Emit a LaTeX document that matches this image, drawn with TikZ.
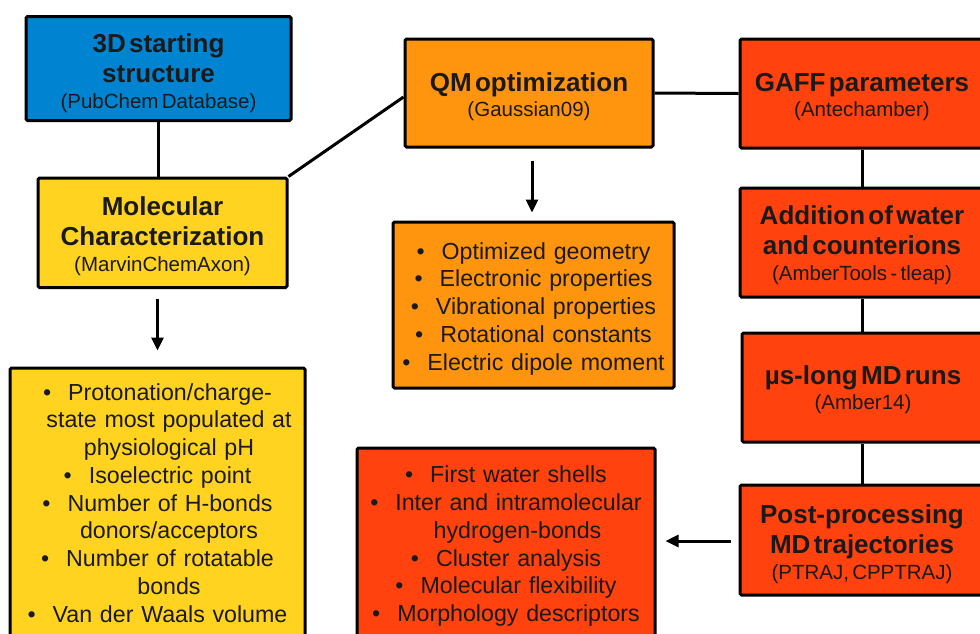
\documentclass[tikz,border=0pt]{standalone}
\usepackage{fontspec}
\setmainfont{Liberation Sans}
\usetikzlibrary{arrows.meta,calc}
\definecolor{cblue}{HTML}{0084D1}
\definecolor{cyel}{HTML}{FFD320}
\definecolor{corg}{HTML}{FF950E}
\definecolor{cred}{HTML}{FF420E}
\definecolor{ctxt}{HTML}{1A1A1A}
\setlength{\parskip}{0pt}
\setlength{\parindent}{0pt}
\hyphenpenalty=10000
\newcommand\Hd[1]{{\fontsize{26}{30.5}\selectfont\bfseries\rule{0pt}{21.35pt}#1\par}}
\newcommand\Sb[1]{{\fontsize{20.5}{25.5}\selectfont #1\par}}
\newcommand\Bu{\textbullet\hspace{17pt}}
\newcommand\Ct{\hspace*{23pt}}
\newcommand\Ls{\fontsize{23.2}{27.75}\selectfont}
\tikzset{
  box/.style={draw=black, line width=3pt, rounded corners=1.5pt, inner sep=0pt},
  txt/.style={anchor=north, inner sep=0pt, align=center, text=ctxt},
  lst/.style={txt, font=\Ls},
  conn/.style={line width=3pt, draw=black},
  arr/.style={line width=3pt, draw=black, -{Triangle[length=13pt,width=12pt]}}
}
\begin{document}
\begin{tikzpicture}[x=1pt,y=-1pt]
\useasboundingbox (0,0) rectangle (980,633);
\clip (0,0) rectangle (980,633);
% boxes
\node[box, fill=cblue, minimum width=265pt, minimum height=104pt] (blue) at (158.5,68.5) {};
\node[box, fill=cyel, minimum width=249pt, minimum height=109.5pt] (mc) at (162.5,232.75) {};
\node[box, fill=cyel, minimum width=295pt, minimum height=312pt] (mcl) at (157.5,524) {};
\node[box, fill=corg, minimum width=248pt, minimum height=108pt] (qm) at (529,93) {};
\node[box, fill=corg, minimum width=281pt, minimum height=166pt] (ql) at (533.5,305) {};
\node[box, fill=cred, minimum width=244pt, minimum height=109pt] (gaff) at (862,93.5) {};
\node[box, fill=cred, minimum width=244pt, minimum height=109pt] (add) at (862,242.5) {};
\node[box, fill=cred, minimum width=242pt, minimum height=109pt] (mus) at (863,387.5) {};
\node[box, fill=cred, minimum width=244pt, minimum height=110pt] (post) at (862,540) {};
\node[box, fill=cred, minimum width=298pt, minimum height=232pt] (mdl) at (506,564) {};
% texts
\node[txt, text width=255pt] (blue-t) at (158.5,30.65) {\Hd{3D starting\\structure}\Sb{(PubChem Database)}};
\node[txt, text width=245pt] (mc-t) at (162.5,193.65) {\Hd{Molecular\\Characterization}\Sb{(MarvinChemAxon)}};
\node[txt, text width=245pt] (qm-t) at (529,69.65) {\Hd{QM optimization}\Sb{(Gaussian09)}};
\node[txt, text width=240pt] (gaff-t) at (862,69.65) {\Hd{GAFF parameters}\Sb{(Antechamber)}};
\node[txt, text width=240pt] (add-t) at (862,202.65) {\Hd{Addition of water\\and counterions}\Sb{(AmberTools - tleap)}};
\node[txt, text width=240pt] (mus-t) at (863,362.65) {\Hd{µs-long MD runs}\Sb{(Amber14)}};
\node[txt, text width=240pt] (post-t) at (862,501.65) {\Hd{Post-processing\\MD trajectories}\Sb{(PTRAJ, CPPTRAJ)}};
\node[lst, text width=281pt] (ql-t) at (533.5,240) {\rule{0pt}{19pt}\Bu Optimized geometry\\
  \Bu Electronic properties\\
  \Bu Vibrational properties\\
  \Bu Rotational constants\\
  \Bu Electric dipole moment\par};
\node[lst, text width=295pt] (mcl-t) at (157.5,381) {\rule{0pt}{19pt}\Bu Protonation/charge-\\
  \Ct state most populated at\\
  \Ct physiological pH\\
  \Bu Isoelectric point\\
  \Bu Number of H-bonds\\
  \Ct donors/acceptors\\
  \Bu Number of rotatable\\
  \Ct bonds\\
  \Bu Van der Waals volume\par};
\node[lst, text width=298pt] (mdl-t) at (506,463.7) {\rule{0pt}{19pt}\Bu First water shells\\
  \Bu Inter and intramolecular\\
  \Ct hydrogen-bonds\\
  \Bu Cluster analysis\\
  \Bu Molecular flexibility\\
  \Bu Morphology descriptors\par};
% connectors
\draw[conn] (blue.south) -- (blue.south |- mc.north);
\draw[conn] (mc.north east) -- ([yshift=-4pt]qm.west);
\draw[conn] (qm.east) -- (gaff.west);
\draw[conn] (gaff.south) -- (add.north);
\draw[conn] (add.south) -- (add.south |- mus.north);
\draw[conn] (mus.south -| post.north) -- (post.north);
\draw[arr] ($(mc.south -| mcl.north)+(0,10)$) -- ($(mcl.north)+(0,-16)$);
\draw[arr] ($(qm.south -| ql.north)+(-1.5,12)$) -- ($(ql.north)+(-1.5,-8)$);
\draw[arr] ($(post.west)+(-8,1)$) -- ($(mdl.east |- post.west)+(9,1)$);
\end{tikzpicture}
\end{document}
